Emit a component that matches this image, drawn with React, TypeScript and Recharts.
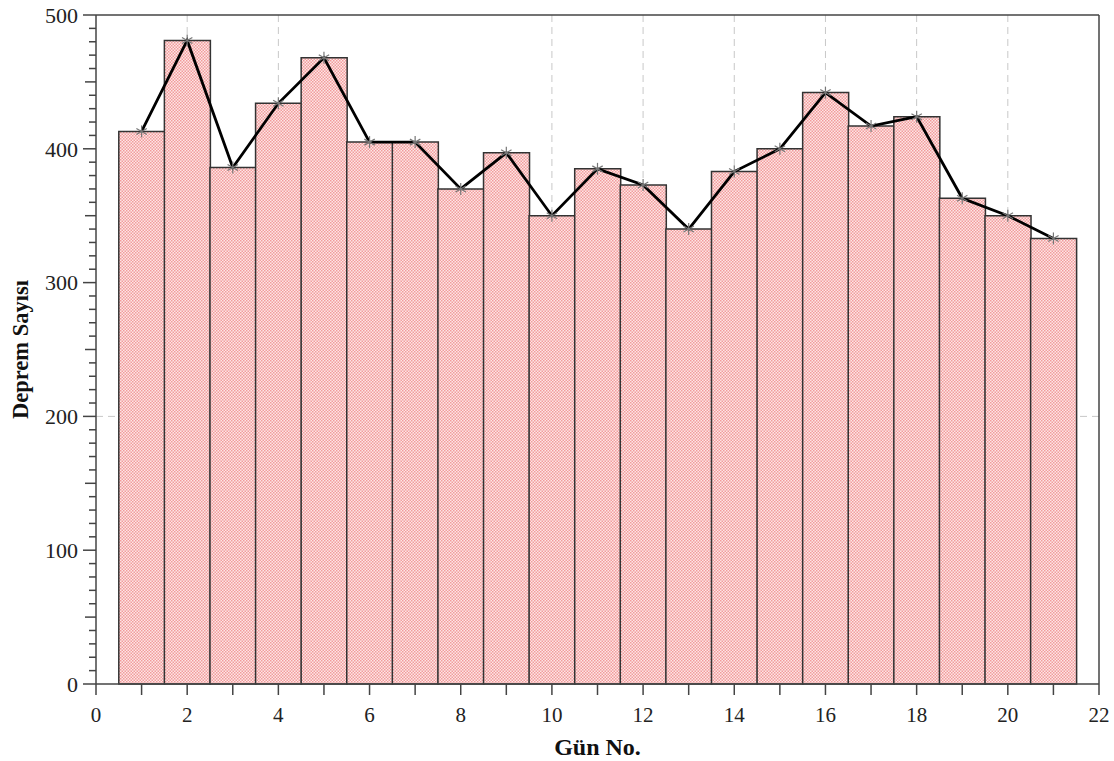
import { Bar, CartesianGrid, ComposedChart, Label, Line, ReferenceLine, XAxis, YAxis } from "recharts";

const days = [1, 2, 3, 4, 5, 6, 7, 8, 9, 10, 11, 12, 13, 14, 15, 16, 17, 18, 19, 20, 21];
const counts = [413, 481, 386, 434, 468, 405, 405, 370, 397, 350, 385, 373, 340, 383, 400, 442, 417, 424, 363, 350, 333];
const xTicks = [0, 1, 2, 3, 4, 5, 6, 7, 8, 9, 10, 11, 12, 13, 14, 15, 16, 17, 18, 19, 20, 21, 22];
const yTicks = Array.from({ length: 51 }, (_, i) => i * 10);
const gridX = [2, 4, 10, 12, 14, 16, 18, 20];
const gridY = [200];

const data = days.map((d, i) => ({ day: d, count: counts[i] }));

const FONT = "'Liberation Serif', 'Times New Roman', serif";
const AXIS = "#444";

function XTick({ x, y, payload }: any) {
  const v = payload.value;
  return (
    <g>
      <line x1={x} x2={x} y1={y} y2={y + 11} stroke={AXIS} strokeWidth={1.5} />
      {v % 2 === 0 && (
        <text x={x} y={y + 31} textAnchor="middle" dy="0.35em" fontFamily={FONT} fontSize={21} fill="#222">
          {v}
        </text>
      )}
    </g>
  );
}

function YTick({ x, y, payload }: any) {
  const v = payload.value;
  const len = v % 100 === 0 ? 13 : v % 50 === 0 ? 11 : 7;
  return (
    <g>
      <line x1={x - len} x2={x} y1={y} y2={y} stroke={AXIS} strokeWidth={1.5} />
      {v % 100 === 0 && (
        <text x={x - 18} y={y} textAnchor="end" dy="0.35em" fontFamily={FONT} fontSize={22} fill="#222">
          {v}
        </text>
      )}
    </g>
  );
}

function Star({ cx, cy }: any) {
  if (cx == null || cy == null) return <g />;
  const r = 6;
  const dx = r * Math.cos(Math.PI / 6);
  const dy = r * Math.sin(Math.PI / 6);
  return (
    <g stroke="#777" strokeWidth={1.2}>
      <line x1={cx} y1={cy - r} x2={cx} y2={cy + r} />
      <line x1={cx - dx} y1={cy - dy} x2={cx + dx} y2={cy + dy} />
      <line x1={cx - dx} y1={cy + dy} x2={cx + dx} y2={cy - dy} />
    </g>
  );
}

export default function App() {
  return (
    <div style={{ position: "absolute", left: 0, top: 0, width: 1114, height: 761, background: "#fff" }}>
      <svg width={0} height={0} style={{ position: "absolute" }}>
        <defs>
          <pattern id="pinkDots" width={3} height={3} patternUnits="userSpaceOnUse">
            <rect width={3} height={3} fill="#fde6e6" />
            <rect width={1.5} height={1.5} fill="#f29c9c" />
            <rect x={1.5} y={1.5} width={1.5} height={1.5} fill="#f29c9c" />
          </pattern>
        </defs>
      </svg>
      <ComposedChart
        width={1114}
        height={761}
        data={data}
        margin={{ top: 15, right: 15, left: 0, bottom: 0 }}
        barCategoryGap={0}
        barGap={0}
      >
        <CartesianGrid stroke="#c8c8c8" strokeDasharray="7 5" verticalValues={gridX} horizontalValues={gridY} />
        <XAxis
          dataKey="day"
          type="number"
          domain={[0, 22]}
          ticks={xTicks}
          interval={0}
          height={77}
          tickSize={0}
          tickMargin={0}
          tickLine={false}
          tick={<XTick />}
          stroke={AXIS}
          strokeWidth={1.5}
        >
          <Label
            content={({ viewBox }: any) => (
              <text
                x={viewBox.x + viewBox.width / 2}
                y={viewBox.y + 63}
                textAnchor="middle"
                dy="0.35em"
                fontFamily={FONT}
                fontWeight="bold"
                fontSize={24}
                fill="#111"
              >
                Gün No.
              </text>
            )}
          />
        </XAxis>
        <YAxis
          type="number"
          domain={[0, 500]}
          ticks={yTicks}
          interval={0}
          width={96}
          tickSize={0}
          tickMargin={0}
          tickLine={false}
          tick={<YTick />}
          stroke={AXIS}
          strokeWidth={1.5}
        >
          <Label
            content={({ viewBox }: any) => {
              const cx = viewBox.x + 20;
              const cy = viewBox.y + viewBox.height / 2;
              return (
                <text
                  x={cx}
                  y={cy}
                  transform={`rotate(-90 ${cx} ${cy})`}
                  textAnchor="middle"
                  dy="0.35em"
                  fontFamily={FONT}
                  fontWeight="bold"
                  fontSize={22.5}
                  fill="#111"
                >
                  Deprem Sayısı
                </text>
              );
            }}
          />
        </YAxis>
        <Bar dataKey="count" fill="url(#pinkDots)" stroke="#333" strokeWidth={1.5} isAnimationActive={false} />
        <Line
          dataKey="count"
          type="linear"
          stroke="#000"
          strokeWidth={2.8}
          dot={<Star />}
          activeDot={false}
          isAnimationActive={false}
        />
        <ReferenceLine y={500} stroke={AXIS} strokeWidth={1.5} />
        <ReferenceLine x={22} stroke={AXIS} strokeWidth={1.5} />
      </ComposedChart>
    </div>
  );
}
